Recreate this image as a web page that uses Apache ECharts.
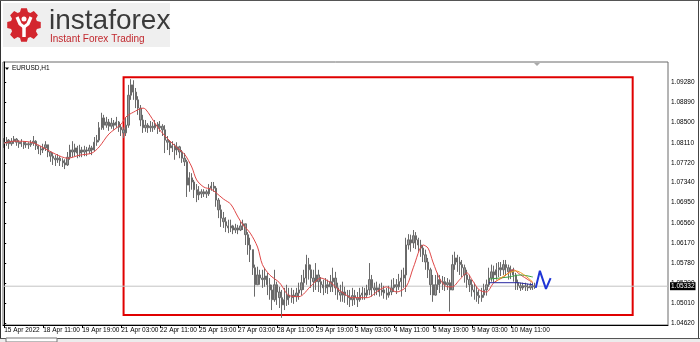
<!DOCTYPE html>
<html><head><meta charset="utf-8">
<script src="https://cdn.jsdelivr.net/npm/echarts@6/dist/echarts.min.js"></script>
<style>html,body{margin:0;padding:0;background:#fff}#c{width:700px;height:342px}</style>
</head><body><div id="c"></div><script>
// ---- data (EURUSD, 2-hour candles) ----
const tickLabelsX = ['15 Apr 2022','18 Apr 11:00','19 Apr 19:00','21 Apr 03:00','22 Apr 11:00','25 Apr 19:00','27 Apr 03:00','28 Apr 11:00','29 Apr 19:00','3 May 03:00','4 May 11:00','5 May 19:00','9 May 03:00','10 May 11:00'];
const priceTicks = [1.04620,1.05010,1.05390,1.05780,1.06170,1.06560,1.06950,1.07340,1.07720,1.08110,1.08500,1.08890,1.09280];
const currentPrice = 1.05332;
const firstOpen = 1.0812;
const closes = [1.0810,1.0816,1.0809,1.0814,1.0818,1.0812,1.0809,1.0812,1.0807,1.0809,
1.0807,1.0810,1.0814,1.0805,1.0799,1.0797,1.0801,1.0807,1.0793,1.0785,
1.0781,1.0778,1.0781,1.0776,1.0772,1.0768,1.0783,1.0797,1.0793,1.0801,
1.0791,1.0797,1.0793,1.0797,1.0795,1.0801,1.0797,1.0812,1.0816,1.0840,
1.0859,1.0845,1.0851,1.0843,1.0849,1.0845,1.0851,1.0841,1.0836,1.0830,
1.0845,1.0903,1.0923,1.0909,1.0894,1.0878,1.0855,1.0840,1.0845,1.0840,
1.0843,1.0840,1.0847,1.0840,1.0843,1.0836,1.0816,1.0812,1.0801,1.0805,
1.0797,1.0803,1.0793,1.0781,1.0774,1.0729,1.0743,1.0735,1.0720,1.0710,
1.0716,1.0712,1.0716,1.0712,1.0723,1.0727,1.0723,1.0700,1.0681,1.0665,
1.0658,1.0650,1.0646,1.0650,1.0642,1.0646,1.0642,1.0650,1.0654,1.0633,
1.0613,1.0604,1.0569,1.0536,1.0555,1.0549,1.0546,1.0553,1.0536,1.0526,
1.0507,1.0536,1.0522,1.0511,1.0497,1.0507,1.0516,1.0511,1.0516,1.0513,
1.0520,1.0526,1.0540,1.0549,1.0575,1.0565,1.0549,1.0542,1.0555,1.0542,
1.0536,1.0530,1.0536,1.0532,1.0542,1.0549,1.0530,1.0522,1.0516,1.0522,
1.0515,1.0511,1.0507,1.0515,1.0511,1.0507,1.0516,1.0520,1.0516,1.0526,
1.0546,1.0530,1.0526,1.0530,1.0522,1.0526,1.0520,1.0516,1.0522,1.0530,
1.0536,1.0532,1.0542,1.0549,1.0555,1.0613,1.0623,1.0617,1.0631,1.0623,
1.0613,1.0607,1.0594,1.0580,1.0565,1.0536,1.0516,1.0536,1.0546,1.0538,
1.0542,1.0536,1.0540,1.0526,1.0575,1.0588,1.0580,1.0575,1.0569,1.0555,
1.0546,1.0536,1.0526,1.0522,1.0515,1.0511,1.0516,1.0526,1.0536,1.0549,
1.0561,1.0555,1.0565,1.0569,1.0565,1.0575,1.0569,1.0561,1.0565,1.0555,
1.0540,1.0534,1.0530,1.0534,1.0532,1.0530,1.0534,1.0532,1.05332];
const highs = [1.0820,1.0822,1.0818,1.0820,1.0824,1.0820,1.0816,1.0818,1.0814,1.0814,
1.0812,1.0816,1.0824,1.0816,1.0807,1.0805,1.0809,1.0814,1.0805,1.0795,
1.0791,1.0787,1.0789,1.0785,1.0781,1.0779,1.0793,1.0807,1.0814,1.0809,
1.0805,1.0807,1.0803,1.0805,1.0803,1.0807,1.0805,1.0822,1.0826,1.0851,
1.0869,1.0865,1.0861,1.0857,1.0859,1.0855,1.0861,1.0853,1.0847,1.0841,
1.0859,1.0923,1.0934,1.0932,1.0917,1.0901,1.0884,1.0865,1.0855,1.0849,
1.0853,1.0851,1.0855,1.0851,1.0853,1.0847,1.0845,1.0824,1.0816,1.0814,
1.0809,1.0812,1.0805,1.0797,1.0791,1.0778,1.0754,1.0752,1.0739,1.0731,
1.0727,1.0721,1.0721,1.0720,1.0731,1.0735,1.0735,1.0727,1.0704,1.0691,
1.0677,1.0667,1.0662,1.0662,1.0652,1.0654,1.0652,1.0658,1.0662,1.0652,
1.0638,1.0627,1.0604,1.0575,1.0571,1.0565,1.0565,1.0569,1.0559,1.0549,
1.0536,1.0565,1.0542,1.0532,1.0526,1.0530,1.0536,1.0530,1.0530,1.0526,
1.0530,1.0540,1.0555,1.0565,1.0594,1.0588,1.0575,1.0565,1.0578,1.0565,
1.0551,1.0546,1.0549,1.0546,1.0555,1.0569,1.0561,1.0540,1.0536,1.0542,
1.0532,1.0526,1.0526,1.0530,1.0526,1.0522,1.0530,1.0532,1.0530,1.0536,
1.0578,1.0555,1.0540,1.0542,1.0538,1.0540,1.0534,1.0530,1.0534,1.0546,
1.0549,1.0547,1.0557,1.0565,1.0569,1.0627,1.0634,1.0633,1.0642,1.0638,
1.0627,1.0623,1.0613,1.0604,1.0588,1.0569,1.0555,1.0555,1.0559,1.0555,
1.0553,1.0551,1.0549,1.0546,1.0594,1.0600,1.0594,1.0590,1.0584,1.0575,
1.0565,1.0555,1.0546,1.0540,1.0532,1.0526,1.0530,1.0538,1.0546,1.0569,
1.0575,1.0573,1.0578,1.0580,1.0580,1.0584,1.0584,1.0575,1.0573,1.0569,
1.0559,1.0546,1.0540,1.0540,1.0540,1.0538,1.0540,1.0540,1.0540];
const lows = [1.0801,1.0805,1.0799,1.0805,1.0809,1.0805,1.0801,1.0803,1.0799,1.0801,
1.0799,1.0803,1.0805,1.0797,1.0789,1.0787,1.0791,1.0795,1.0783,1.0774,
1.0768,1.0766,1.0772,1.0766,1.0764,1.0760,1.0766,1.0778,1.0783,1.0785,
1.0781,1.0783,1.0783,1.0785,1.0785,1.0789,1.0787,1.0795,1.0805,1.0812,
1.0836,1.0836,1.0840,1.0834,1.0838,1.0836,1.0840,1.0832,1.0824,1.0820,
1.0824,1.0840,1.0894,1.0894,1.0878,1.0865,1.0843,1.0830,1.0832,1.0830,
1.0832,1.0832,1.0836,1.0828,1.0832,1.0824,1.0791,1.0797,1.0787,1.0793,
1.0778,1.0787,1.0781,1.0772,1.0766,1.0706,1.0716,1.0720,1.0704,1.0696,
1.0700,1.0704,1.0706,1.0704,1.0708,1.0718,1.0716,1.0687,1.0665,1.0648,
1.0646,1.0638,1.0636,1.0638,1.0634,1.0636,1.0634,1.0640,1.0642,1.0613,
1.0594,1.0580,1.0555,1.0513,1.0536,1.0536,1.0530,1.0532,1.0516,1.0507,
1.0487,1.0503,1.0497,1.0491,1.0472,1.0487,1.0495,1.0497,1.0501,1.0499,
1.0503,1.0507,1.0516,1.0526,1.0536,1.0546,1.0530,1.0522,1.0526,1.0522,
1.0520,1.0516,1.0520,1.0518,1.0522,1.0522,1.0516,1.0507,1.0503,1.0503,
1.0501,1.0497,1.0493,1.0495,1.0497,1.0493,1.0503,1.0507,1.0507,1.0511,
1.0516,1.0513,1.0515,1.0516,1.0513,1.0515,1.0509,1.0507,1.0511,1.0516,
1.0522,1.0518,1.0526,1.0513,1.0530,1.0522,1.0604,1.0600,1.0607,1.0605,
1.0600,1.0590,1.0580,1.0565,1.0549,1.0516,1.0503,1.0515,1.0526,1.0520,
1.0526,1.0524,1.0526,1.0484,1.0526,1.0565,1.0561,1.0555,1.0551,1.0540,
1.0530,1.0522,1.0513,1.0507,1.0503,1.0499,1.0503,1.0511,1.0515,1.0532,
1.0542,1.0540,1.0546,1.0551,1.0553,1.0555,1.0553,1.0546,1.0547,1.0542,
1.0526,1.0526,1.0524,1.0526,1.0524,1.0524,1.0526,1.0526,1.0528];
// red moving average (candle index, value)
const maIdx = [0,4,11,17,21,26,31,36,39,43,48,50,53,57,58,60,63,66,71,74,77,79,82,85,87,90,93,96,98,101,104,106,109,113,117,121,126,130,134,138,143,149,154,157,161,165,168,172,174,176,179,182,184,187,190,192,195,198,201,205,209,212,215,217];
const maVal = [1.0810,1.0814,1.0812,1.0799,1.0789,1.0781,1.0787,1.0791,1.0803,1.0828,1.0847,1.0861,1.0870,1.0878,1.0876,1.0863,1.0841,1.0824,1.0801,1.0789,1.0764,1.0739,1.0725,1.0721,1.0714,1.0702,1.0692,1.0667,1.0652,1.0636,1.0609,1.0575,1.0555,1.0540,1.0515,1.0513,1.0534,1.0549,1.0540,1.0524,1.0511,1.0511,1.0526,1.0532,1.0522,1.0532,1.0570,1.0613,1.0607,1.0580,1.0546,1.0532,1.0532,1.0546,1.0559,1.0546,1.0526,1.0522,1.0540,1.0551,1.0565,1.0555,1.0546,1.0540];
// short indicator lines at the right end
const greenIdx = [199,207,212,217];  const greenVal = [1.0547,1.0551,1.0555,1.0551];
const orangeIdx = [202,210,217];     const orangeVal = [1.0543,1.0563,1.0541];
const navyIdx = [199,211,217];       const navyVal = [1.0540,1.0540,1.0536];
// blue hand-drawn "N" projection
const nIdx = [218.2,219.9,222.4,224.3];
const nVal = [1.0530,1.0563,1.0528,1.0549];

const N_SLOTS = 273;
const slots = Array.from({length: N_SLOTS}, (_, i) => String(i));
const candles = closes.map((c, i) => {
  const o = i === 0 ? firstOpen : closes[i - 1];
  return [o, c, Math.min(lows[i], o, c), Math.max(highs[i], o, c)];
});
const pairs = (xs, ys) => xs.map((x, i) => [x, ys[i]]);
const showTick = (idx) => idx % 16 === 0 && idx / 16 < tickLabelsX.length;
const FONT = 'Liberation Sans';

// gear polygon for the logo
const gear = [];
for (let t = 0; t < 8; t++) {
  const a = t * Math.PI / 4;
  [[-0.30, 13.5], [-0.17, 17], [0.17, 17], [0.30, 13.5]].forEach(([da, r]) => {
    gear.push([24 + r * Math.cos(a + da), 25 + r * Math.sin(a + da)]);
  });
}

const chart = echarts.init(document.getElementById('c'), null, {renderer: 'canvas'});
chart.setOption({
  animation: false,
  backgroundColor: '#fff',
  grid: {left: 3, top: 62, width: 665, height: 263, show: true, borderColor: '#6a6a6a', borderWidth: 1, backgroundColor: '#fff'},
  xAxis: [{
    type: 'category', data: slots, boundaryGap: true,
    axisLine: {lineStyle: {color: '#000', width: 1}},
    axisTick: {show: true, interval: showTick, length: 3, alignWithLabel: true, lineStyle: {color: '#000'}},
    axisLabel: {interval: showTick, align: 'left', margin: 2, fontSize: 6.5, color: '#000', fontFamily: FONT,
      formatter: (v, idx) => (showTick(idx) ? tickLabelsX[idx / 16] : '')},
    splitLine: {show: false}
  }, {
    type: 'value', min: -0.5, max: N_SLOTS - 0.5, show: false
  }],
  yAxis: {
    type: 'value', position: 'right', min: 1.04581, max: 1.09673, scale: true,
    axisLine: {show: true, lineStyle: {color: '#000'}},
    axisTick: {show: true, customValues: priceTicks, length: 2, lineStyle: {color: '#000'}},
    axisLabel: {customValues: priceTicks, formatter: v => v.toFixed(5), fontSize: 6.5, color: '#000', margin: 3, fontFamily: FONT},
    splitLine: {show: false}
  },
  series: [{
    // current bid line across the whole plot with the black price box
    type: 'line', xAxisIndex: 1, data: [[-0.5, currentPrice], [N_SLOTS - 0.5, currentPrice]],
    symbol: 'none', silent: true, z: 1,
    lineStyle: {color: '#c4c4c4', width: 1},
    endLabel: {show: true, distance: 2, formatter: () => currentPrice.toFixed(5), backgroundColor: '#000', color: '#fff',
      fontSize: 6.5, fontFamily: FONT, padding: [1, 1, 0, 1]}
  }, {
    type: 'candlestick', data: candles, barWidth: 1.8, z: 2,
    itemStyle: {color: '#9a9a9a', color0: '#9a9a9a', borderColor: '#6a6a6a', borderColor0: '#6a6a6a', borderWidth: 1},
    markArea: {
      silent: true,
      itemStyle: {color: 'rgba(0,0,0,0)', borderColor: '#e00000', borderWidth: 2},
      data: [[{xAxis: 49, yAxis: 1.04775}, {xAxis: 258, yAxis: 1.09376}]]
    }
  }, {
    type: 'line', data: pairs(maIdx, maVal), smooth: 0.3, symbol: 'none',
    lineStyle: {color: '#e04848', width: 1}, z: 3
  }, {
    type: 'line', data: pairs(greenIdx, greenVal), smooth: 0.3, symbol: 'none', lineStyle: {color: '#3aa040', width: 1}, z: 3
  }, {
    type: 'line', data: pairs(orangeIdx, orangeVal), smooth: 0.3, symbol: 'none', lineStyle: {color: '#f0a020', width: 1}, z: 3
  }, {
    type: 'line', data: pairs(navyIdx, navyVal), symbol: 'none', lineStyle: {color: '#2828a0', width: 1}, z: 3
  }, {
    type: 'line', xAxisIndex: 1, data: pairs(nIdx, nVal), symbol: 'none', lineStyle: {color: '#1f35d6', width: 2}, z: 4
  }],
  graphic: [
    {type: 'rect', shape: {x: 3, y: 3, width: 167, height: 44}, style: {fill: '#efefef'}, silent: true},
    {type: 'polygon', shape: {points: gear}, style: {fill: '#d3262e'}, silent: true},
    {type: 'polyline', shape: {points: [[17, 17], [20, 24], [24, 27], [28, 24], [31, 17]]}, style: {stroke: '#fff', lineWidth: 3.2, fill: null}, silent: true},
    {type: 'line', shape: {x1: 24, y1: 27, x2: 24, y2: 37}, style: {stroke: '#fff', lineWidth: 3.5}, silent: true},
    {type: 'circle', shape: {cx: 24, cy: 19, r: 2.5}, style: {fill: '#fff'}, silent: true},
    {type: 'text', x: 49, y: 7, style: {text: 'instaforex', fontSize: 28, fontFamily: FONT, fill: '#3a3a3a'}, silent: true},
    {type: 'text', x: 50, y: 34, style: {text: 'Instant Forex Trading', fontSize: 10, fontFamily: FONT, fill: '#c1272d'}, silent: true},
    {type: 'polygon', shape: {points: [[5, 67.5], [9, 67.5], [7, 70]]}, style: {fill: '#000'}, silent: true},
    {type: 'text', x: 12, y: 65, style: {text: 'EURUSD,H1', fontSize: 6.5, fontFamily: FONT, fill: '#000'}, silent: true},
    {type: 'line', shape: {x1: 0.5, y1: 0, x2: 0.5, y2: 342}, style: {stroke: '#333', lineWidth: 1}, silent: true},
    {type: 'line', shape: {x1: 0, y1: 0.5, x2: 700, y2: 0.5}, style: {stroke: '#555', lineWidth: 1}, silent: true},
    {type: 'line', shape: {x1: 698.5, y1: 0, x2: 698.5, y2: 342}, style: {stroke: '#444', lineWidth: 1}, silent: true},
    {type: 'line', shape: {x1: 0, y1: 338.5, x2: 700, y2: 338.5}, style: {stroke: '#555', lineWidth: 1}, silent: true},
    {type: 'rect', shape: {x: 0, y: 339, width: 700, height: 3}, style: {fill: '#ececec'}, silent: true},
    {type: 'rect', shape: {x: 6, y: 338, width: 51, height: 4}, style: {fill: '#fff', stroke: '#777', lineWidth: 1}, silent: true},
    {type: 'polygon', shape: {points: [[534, 63], [540, 63], [537, 66]]}, style: {fill: '#aaa'}, silent: true}
  ]
});
</script></body></html>
